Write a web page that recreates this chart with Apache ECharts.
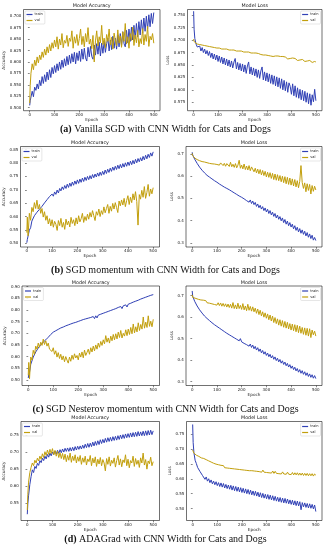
<!DOCTYPE html>
<html><head><meta charset="utf-8">
<script src="https://cdn.jsdelivr.net/npm/echarts@6/dist/echarts.min.js"></script>
<style>html,body{margin:0;padding:0;background:#fff}#c{width:331px;height:550px}</style>
</head><body><div id="c"></div>
<script>
// ---------- DATA ----------
const epochs = [0,2,5,10,15,20,25,30,35,40,
45,50,55,60,65,70,75,80,85,90,
95,100,105,110,115,120,125,130,135,140,
145,150,155,160,165,170,175,180,185,190,
195,200,205,210,215,220,225,230,235,240,
245,250,255,260,265,270,275,280,285,290,
295,300,305,310,315,320,325,330,335,340,
345,350,355,360,365,370,375,380,385,390,
395,400,405,410,415,420,425,430,435,440,
445,450,455,460,465,470,475,480,485,490,
495,500];
const seriesNames = ['train','val'];
const xTicks = [0,100,200,300,400,500];

// (a) Vanilla SGD
const accTrainA = [0.505,0.515,0.518,0.536,0.524,0.545,0.538,0.552,0.541,0.560,
0.548,0.568,0.553,0.572,0.557,0.578,0.561,0.583,0.566,0.588,
0.574,0.592,0.577,0.596,0.581,0.600,0.584,0.604,0.588,0.607,
0.591,0.612,0.594,0.615,0.597,0.618,0.600,0.621,0.596,0.620,
0.603,0.624,0.601,0.628,0.606,0.630,0.609,0.602,0.632,0.611,
0.634,0.612,0.606,0.637,0.615,0.640,0.617,0.643,0.613,0.641,
0.619,0.645,0.621,0.640,0.652,0.624,0.648,0.627,0.656,0.630,
0.652,0.628,0.659,0.633,0.662,0.636,0.666,0.640,0.633,0.669,
0.642,0.672,0.645,0.676,0.648,0.680,0.651,0.684,0.655,0.688,
0.659,0.692,0.663,0.696,0.667,0.700,0.672,0.703,0.677,0.706,
0.684,0.708];
const accValA = [0.510,0.548,0.575,0.596,0.583,0.604,0.592,0.611,0.598,0.615,
0.605,0.622,0.610,0.628,0.615,0.633,0.620,0.638,0.624,0.642,
0.630,0.648,0.633,0.655,0.628,0.650,0.637,0.662,0.631,0.647,
0.641,0.658,0.634,0.652,0.645,0.668,0.630,0.655,0.641,0.660,
0.636,0.651,0.672,0.638,0.656,0.633,0.662,0.644,0.675,0.639,
0.650,0.629,0.658,0.600,0.646,0.668,0.635,0.655,0.642,0.680,
0.638,0.652,0.631,0.660,0.645,0.672,0.637,0.654,0.628,0.663,
0.648,0.635,0.670,0.641,0.657,0.632,0.666,0.645,0.684,0.639,
0.655,0.630,0.662,0.647,0.676,0.636,0.659,0.642,0.669,0.633,
0.651,0.640,0.673,0.637,0.660,0.645,0.678,0.634,0.656,0.648,
0.662,0.641];
const lossTrainA = [0.758,0.722,0.703,0.692,0.686,0.684,0.688,0.678,0.685,0.675,
0.682,0.672,0.679,0.669,0.677,0.665,0.674,0.662,0.672,0.660,
0.670,0.657,0.668,0.655,0.666,0.652,0.664,0.650,0.662,0.648,
0.660,0.646,0.658,0.644,0.656,0.663,0.642,0.655,0.640,0.653,
0.638,0.652,0.636,0.650,0.633,0.648,0.656,0.632,0.646,0.630,
0.644,0.628,0.642,0.625,0.640,0.623,0.638,0.646,0.620,0.636,
0.618,0.634,0.616,0.632,0.613,0.630,0.611,0.628,0.608,0.626,
0.606,0.624,0.603,0.622,0.600,0.619,0.598,0.616,0.595,0.614,
0.607,0.591,0.612,0.588,0.608,0.585,0.604,0.583,0.601,0.580,
0.599,0.578,0.597,0.575,0.594,0.572,0.592,0.569,0.590,0.576,
0.601,0.578];
const lossValA = [0.702,0.697,0.695,0.693,0.692,0.691,0.691,0.690,0.690,0.689,
0.689,0.688,0.688,0.687,0.687,0.686,0.686,0.685,0.685,0.684,
0.684,0.683,0.684,0.683,0.682,0.683,0.682,0.681,0.682,0.681,
0.680,0.681,0.680,0.679,0.680,0.679,0.678,0.679,0.678,0.677,
0.678,0.677,0.676,0.677,0.676,0.675,0.676,0.675,0.674,0.675,
0.674,0.673,0.674,0.672,0.673,0.672,0.671,0.673,0.670,0.672,
0.670,0.671,0.669,0.672,0.668,0.670,0.667,0.669,0.668,0.666,
0.668,0.665,0.667,0.664,0.667,0.663,0.666,0.664,0.662,0.665,
0.663,0.661,0.664,0.660,0.663,0.661,0.659,0.662,0.660,0.658,
0.661,0.659,0.657,0.660,0.658,0.656,0.659,0.657,0.655,0.658,
0.657,0.656];

// (b) SGD momentum
const accTrainB = [0.502,0.514,0.521,0.549,0.558,0.583,0.586,0.603,0.598,0.616,
0.609,0.627,0.620,0.638,0.633,0.651,0.644,0.663,0.656,0.675,
0.668,0.684,0.676,0.692,0.683,0.699,0.688,0.705,0.696,0.711,
0.701,0.716,0.705,0.721,0.709,0.725,0.713,0.729,0.717,0.733,
0.721,0.737,0.724,0.740,0.728,0.744,0.731,0.747,0.735,0.750,
0.738,0.753,0.741,0.757,0.745,0.759,0.748,0.763,0.751,0.766,
0.754,0.769,0.757,0.774,0.761,0.777,0.765,0.781,0.769,0.785,
0.773,0.788,0.776,0.792,0.779,0.795,0.782,0.798,0.785,0.801,
0.788,0.804,0.791,0.807,0.794,0.810,0.797,0.814,0.801,0.817,
0.805,0.820,0.808,0.825,0.812,0.829,0.816,0.833,0.821,0.838,
0.826,0.842];
const accValB = [0.540,0.598,0.528,0.612,0.586,0.634,0.618,0.652,0.630,0.661,
0.628,0.645,0.612,0.630,0.598,0.618,0.586,0.603,0.572,0.592,
0.565,0.588,0.560,0.582,0.571,0.548,0.585,0.566,0.593,0.560,
0.578,0.552,0.590,0.569,0.583,0.561,0.597,0.574,0.588,0.566,
0.595,0.572,0.603,0.580,0.592,0.612,0.578,0.600,0.585,0.609,
0.590,0.615,0.598,0.622,0.603,0.585,0.618,0.605,0.628,0.600,
0.622,0.608,0.636,0.614,0.630,0.645,0.612,0.638,0.620,0.649,
0.628,0.652,0.634,0.615,0.658,0.640,0.662,0.643,0.668,0.637,
0.660,0.678,0.645,0.672,0.652,0.685,0.662,0.693,0.656,0.568,
0.682,0.665,0.698,0.672,0.712,0.668,0.690,0.720,0.676,0.703,
0.685,0.708];
const lossTrainB = [0.708,0.696,0.692,0.677,0.673,0.658,0.655,0.641,0.642,0.627,
0.630,0.615,0.619,0.604,0.611,0.596,0.602,0.588,0.594,0.580,
0.586,0.573,0.579,0.565,0.572,0.558,0.566,0.551,0.559,0.545,
0.553,0.539,0.547,0.532,0.541,0.525,0.534,0.518,0.527,0.511,
0.520,0.505,0.513,0.498,0.506,0.490,0.499,0.483,0.493,0.477,
0.488,0.472,0.482,0.464,0.475,0.458,0.469,0.452,0.463,0.445,
0.457,0.439,0.451,0.432,0.445,0.426,0.438,0.419,0.432,0.412,
0.425,0.406,0.418,0.399,0.412,0.391,0.405,0.384,0.398,0.377,
0.391,0.371,0.384,0.363,0.377,0.356,0.370,0.349,0.364,0.343,
0.358,0.338,0.352,0.331,0.346,0.325,0.340,0.319,0.334,0.312,
0.324,0.310];
const lossValB = [0.703,0.693,0.691,0.682,0.681,0.675,0.676,0.670,0.672,0.666,
0.670,0.664,0.668,0.661,0.666,0.658,0.665,0.656,0.663,0.655,
0.662,0.653,0.661,0.650,0.660,0.668,0.648,0.658,0.645,0.657,
0.655,0.644,0.663,0.643,0.654,0.640,0.657,0.638,0.650,0.672,
0.636,0.650,0.633,0.655,0.630,0.646,0.628,0.648,0.625,0.642,
0.640,0.620,0.636,0.615,0.632,0.611,0.630,0.606,0.626,0.603,
0.622,0.597,0.618,0.595,0.616,0.590,0.613,0.585,0.610,0.582,
0.607,0.580,0.603,0.575,0.600,0.571,0.598,0.566,0.595,0.563,
0.592,0.560,0.588,0.556,0.585,0.552,0.580,0.548,0.577,0.648,
0.572,0.545,0.570,0.530,0.566,0.536,0.563,0.520,0.558,0.532,
0.555,0.538];

// (c) SGD Nesterov momentum
const accTrainC = [0.508,0.524,0.533,0.567,0.575,0.598,0.601,0.620,0.621,0.637,
0.635,0.651,0.647,0.662,0.657,0.672,0.667,0.683,0.679,0.695,
0.690,0.705,0.698,0.711,0.704,0.717,0.710,0.723,0.715,0.727,
0.720,0.732,0.724,0.736,0.728,0.740,0.732,0.744,0.736,0.747,
0.739,0.751,0.743,0.755,0.747,0.759,0.751,0.762,0.754,0.765,
0.757,0.768,0.760,0.772,0.763,0.775,0.766,0.778,0.770,0.782,
0.774,0.786,0.778,0.790,0.782,0.794,0.786,0.798,0.790,0.802,
0.794,0.806,0.798,0.811,0.803,0.815,0.806,0.818,0.810,0.822,
0.813,0.825,0.817,0.829,0.821,0.834,0.826,0.838,0.830,0.842,
0.834,0.847,0.839,0.851,0.843,0.855,0.847,0.859,0.851,0.863,
0.855,0.866];
const accValC = [0.520,0.575,0.505,0.598,0.585,0.627,0.610,0.645,0.632,0.658,
0.640,0.662,0.648,0.675,0.652,0.668,0.645,0.658,0.632,0.640,
0.622,0.638,0.610,0.625,0.598,0.617,0.592,0.610,0.586,0.603,
0.578,0.600,0.585,0.572,0.598,0.580,0.606,0.588,0.612,0.594,
0.605,0.586,0.615,0.598,0.620,0.595,0.628,0.605,0.618,0.632,
0.610,0.638,0.620,0.645,0.625,0.650,0.632,0.658,0.640,0.665,
0.648,0.672,0.655,0.690,0.662,0.680,0.658,0.688,0.668,0.695,
0.672,0.698,0.676,0.705,0.682,0.712,0.680,0.700,0.688,0.715,
0.690,0.718,0.695,0.725,0.698,0.740,0.702,0.728,0.706,0.745,
0.712,0.738,0.718,0.770,0.722,0.748,0.725,0.775,0.730,0.752,
0.728,0.760];
const lossTrainC = [0.722,0.698,0.693,0.674,0.670,0.652,0.650,0.634,0.635,0.619,
0.622,0.605,0.610,0.594,0.601,0.584,0.591,0.574,0.582,0.565,
0.573,0.557,0.565,0.549,0.557,0.541,0.549,0.533,0.541,0.525,
0.534,0.518,0.527,0.511,0.520,0.504,0.513,0.497,0.506,0.490,
0.500,0.485,0.494,0.478,0.487,0.472,0.481,0.465,0.475,0.459,
0.470,0.453,0.464,0.447,0.458,0.441,0.452,0.434,0.445,0.428,
0.439,0.422,0.433,0.416,0.427,0.410,0.421,0.404,0.415,0.398,
0.409,0.392,0.403,0.386,0.397,0.380,0.391,0.374,0.385,0.368,
0.379,0.362,0.373,0.356,0.367,0.350,0.361,0.344,0.356,0.339,
0.351,0.334,0.346,0.329,0.341,0.324,0.336,0.320,0.332,0.316,
0.328,0.314];
const lossValC = [0.704,0.692,0.692,0.683,0.687,0.678,0.683,0.674,0.680,0.672,
0.679,0.670,0.677,0.667,0.675,0.665,0.673,0.662,0.670,0.659,
0.668,0.656,0.667,0.654,0.666,0.651,0.664,0.650,0.662,0.647,
0.661,0.645,0.660,0.642,0.668,0.640,0.657,0.638,0.665,0.640,
0.655,0.636,0.663,0.634,0.652,0.630,0.660,0.632,0.650,0.628,
0.648,0.625,0.642,0.618,0.638,0.612,0.632,0.606,0.625,0.600,
0.620,0.595,0.615,0.588,0.610,0.582,0.605,0.575,0.598,0.570,
0.592,0.563,0.588,0.558,0.584,0.553,0.580,0.549,0.576,0.545,
0.570,0.540,0.568,0.537,0.565,0.532,0.562,0.528,0.558,0.525,
0.552,0.520,0.550,0.516,0.548,0.512,0.546,0.505,0.540,0.518,
0.535,0.512];

// (d) ADAGrad
const accTrainD = [0.518,0.548,0.572,0.605,0.628,0.648,0.640,0.658,0.652,0.667,
0.661,0.675,0.669,0.682,0.675,0.688,0.680,0.693,0.685,0.697,
0.689,0.700,0.693,0.703,0.694,0.705,0.696,0.707,0.698,0.709,
0.700,0.711,0.702,0.712,0.702,0.713,0.703,0.714,0.704,0.716,
0.706,0.717,0.708,0.718,0.709,0.720,0.711,0.723,0.713,0.725,
0.714,0.726,0.716,0.729,0.718,0.731,0.720,0.733,0.722,0.736,
0.725,0.737,0.727,0.740,0.729,0.742,0.731,0.743,0.732,0.745,
0.734,0.746,0.735,0.748,0.737,0.750,0.739,0.751,0.740,0.753,
0.742,0.754,0.743,0.756,0.744,0.757,0.745,0.758,0.746,0.760,
0.747,0.759,0.748,0.761,0.748,0.762,0.749,0.763,0.750,0.764,
0.751,0.762];
const accValD = [0.530,0.575,0.612,0.640,0.655,0.668,0.660,0.676,0.668,0.682,
0.674,0.688,0.679,0.695,0.684,0.701,0.690,0.706,0.693,0.708,
0.696,0.710,0.692,0.705,0.688,0.702,0.684,0.698,0.681,0.696,
0.678,0.694,0.672,0.690,0.676,0.697,0.670,0.688,0.675,0.692,
0.668,0.686,0.673,0.690,0.664,0.683,0.670,0.688,0.662,0.680,
0.672,0.690,0.660,0.682,0.668,0.686,0.658,0.679,0.665,0.684,
0.660,0.678,0.668,0.645,0.681,0.664,0.686,0.659,0.676,0.667,
0.683,0.656,0.675,0.690,0.662,0.680,0.657,0.677,0.669,0.692,
0.660,0.679,0.654,0.675,0.668,0.688,0.658,0.681,0.664,0.676,
0.655,0.683,0.668,0.697,0.662,0.678,0.650,0.674,0.666,0.685,
0.660,0.672];
const lossTrainD = [0.782,0.722,0.688,0.662,0.651,0.638,0.632,0.624,0.620,0.611,
0.612,0.598,0.606,0.592,0.600,0.587,0.596,0.583,0.592,0.580,
0.590,0.577,0.587,0.574,0.586,0.572,0.584,0.569,0.581,0.567,
0.579,0.565,0.578,0.562,0.576,0.560,0.574,0.558,0.572,0.556,
0.570,0.554,0.568,0.552,0.566,0.550,0.564,0.548,0.562,0.546,
0.559,0.544,0.558,0.542,0.555,0.539,0.553,0.537,0.551,0.535,
0.548,0.533,0.547,0.531,0.545,0.529,0.543,0.527,0.541,0.525,
0.538,0.523,0.537,0.521,0.535,0.519,0.534,0.518,0.532,0.516,
0.529,0.514,0.528,0.512,0.526,0.510,0.525,0.509,0.523,0.496,
0.520,0.506,0.519,0.504,0.517,0.502,0.516,0.501,0.514,0.499,
0.512,0.490];
const lossValD = [0.696,0.690,0.686,0.683,0.679,0.677,0.675,0.672,0.670,0.668,
0.668,0.663,0.664,0.658,0.660,0.654,0.656,0.650,0.652,0.646,
0.649,0.643,0.647,0.641,0.645,0.639,0.644,0.637,0.643,0.636,
0.641,0.635,0.640,0.634,0.639,0.633,0.638,0.632,0.637,0.631,
0.636,0.630,0.636,0.629,0.635,0.628,0.634,0.627,0.633,0.627,
0.632,0.626,0.631,0.625,0.631,0.624,0.630,0.622,0.629,0.622,
0.627,0.621,0.627,0.620,0.626,0.619,0.626,0.618,0.625,0.618,
0.624,0.617,0.623,0.616,0.623,0.616,0.622,0.615,0.622,0.615,
0.621,0.614,0.621,0.613,0.620,0.613,0.620,0.612,0.619,0.612,
0.619,0.611,0.618,0.611,0.618,0.610,0.617,0.610,0.617,0.609,
0.616,0.612];

// tick labels
const accTicksA = [0.500,0.525,0.550,0.575,0.600,0.625,0.650,0.675,0.700];
const lossTicksA = [0.575,0.600,0.625,0.650,0.675,0.700,0.725,0.750];
const accTicksB = [0.50,0.55,0.60,0.65,0.70,0.75,0.80,0.85];
const lossTicksB = [0.3,0.4,0.5,0.6,0.7];
const accTicksC = [0.50,0.55,0.60,0.65,0.70,0.75,0.80,0.85,0.90];
const lossTicksC = [0.3,0.4,0.5,0.6,0.7];
const accTicksD = [0.55,0.60,0.65,0.70,0.75];
const lossTicksD = [0.50,0.55,0.60,0.65,0.70,0.75];

const captions = [
  ['(a)', 'Vanilla SGD with CNN Width for Cats and Dogs'],
  ['(b)', 'SGD momentum with CNN Width for Cats and Dogs'],
  ['(c)', 'SGD Nesterov momentum with CNN Width for Cats and Dogs'],
  ['(d)', 'ADAGrad with CNN Width for Cats and Dogs']
];

// ---------- LAYOUT ----------
const TRAIN = '#3040b5', VAL = '#c29f0c';
const W = 331, H = 550;
const rows = [
  {top: 9.5, bot: 110.7, titleY: 6, capY: 129},
  {top: 146.5, bot: 247, titleY: 143, capY: 270},
  {top: 286, bot: 385.5, titleY: 282.5, capY: 409.5},
  {top: 421.5, bot: 520.5, titleY: 418, capY: 539}
];
const panels = [
  {r:0, kind:'acc', x0:23.5, x1:160, ymin:0.4935, ymax:0.7146, ticks:accTicksA, dec:3, tr:accTrainA, va:accValA, ng:14.5},
  {r:0, kind:'loss', x0:187.5, x1:322, ymin:0.558, ymax:0.7615, ticks:lossTicksA, dec:3, tr:lossTrainA, va:lossValA, ng:13},
  {r:1, kind:'acc', x0:20.5, x1:159.5, ymin:0.486, ymax:0.862, ticks:accTicksB, dec:2, tr:accTrainB, va:accValB, ng:11.5},
  {r:1, kind:'loss', x0:186, x1:322, ymin:0.281, ymax:0.734, ticks:lossTicksB, dec:1, tr:lossTrainB, va:lossValB, ng:9},
  {r:2, kind:'acc', x0:22, x1:159.5, ymin:0.476, ymax:0.903, ticks:accTicksC, dec:2, tr:accTrainC, va:accValC, ng:11.5},
  {r:2, kind:'loss', x0:186, x1:322, ymin:0.282, ymax:0.745, ticks:lossTicksC, dec:1, tr:lossTrainC, va:lossValC, ng:9},
  {r:3, kind:'acc', x0:21, x1:159.5, ymin:0.4996, ymax:0.7895, ticks:accTicksD, dec:2, tr:accTrainD, va:accValD, ng:11.5},
  {r:3, kind:'loss', x0:186.5, x1:322, ymin:0.46, ymax:0.792, ticks:lossTicksD, dec:2, tr:lossTrainD, va:lossValD, ng:11.5}
];

const FONT = 'DejaVu Sans';
const grid = [], xAxis = [], yAxis = [], series = [], legend = [], graphic = [];
const pair = vals => vals.map((v, i) => [epochs[i], v]);

panels.forEach((p, i) => {
  const row = rows[p.r];
  grid.push({left: p.x0, top: row.top, width: p.x1 - p.x0, height: row.bot - row.top,
    show: true, borderColor: '#111', borderWidth: 0.6, backgroundColor: 'transparent'});
  xAxis.push({type: 'value', gridIndex: i, min: -25, max: 525,
    name: 'Epoch', nameLocation: 'middle', nameGap: 6.5,
    nameTextStyle: {fontSize: 4.2, fontFamily: FONT, color: '#222'},
    axisLine: {show: false}, splitLine: {show: false},
    axisTick: {show: true, length: 1.8, lineStyle: {color: '#111', width: 0.5}, customValues: xTicks},
    axisLabel: {fontSize: 4, fontFamily: FONT, color: '#222', margin: 2.2, customValues: xTicks}
  });
  yAxis.push({type: 'value', gridIndex: i, min: p.ymin, max: p.ymax,
    name: p.kind === 'acc' ? 'Accuracy' : 'Loss', nameLocation: 'middle', nameGap: p.ng,
    nameTextStyle: {fontSize: 4.2, fontFamily: FONT, color: '#222'},
    axisLine: {show: false}, splitLine: {show: false},
    axisTick: {show: true, length: 1.8, lineStyle: {color: '#111', width: 0.5}, customValues: p.ticks},
    axisLabel: {fontSize: 4, fontFamily: FONT, color: '#222', margin: 2.2, customValues: p.ticks,
      formatter: v => Number(v).toFixed(p.dec)}
  });
  series.push({name: seriesNames[0], type: 'line', xAxisIndex: i, yAxisIndex: i, data: pair(p.tr),
    showSymbol: false, symbol: 'none', lineStyle: {width: 1, color: TRAIN}, itemStyle: {color: TRAIN}, z: 2});
  series.push({name: seriesNames[1], type: 'line', xAxisIndex: i, yAxisIndex: i, data: pair(p.va),
    showSymbol: false, symbol: 'none', lineStyle: {width: 1, color: VAL}, itemStyle: {color: VAL}, z: 3});
  const lg = {data: seriesNames, orient: 'vertical', top: row.top + 1.5,
    itemWidth: 6, itemHeight: 1.2, itemGap: 2, icon: 'rect',
    padding: [1.5, 2, 1.5, 1.5], borderColor: '#ccc', borderWidth: 0.5, borderRadius: 1,
    backgroundColor: 'rgba(255,255,255,0.85)',
    textStyle: {fontSize: 3.6, fontFamily: FONT, color: '#222', padding: [0, 0, 0, -3]},
    selectedMode: false};
  if (p.kind === 'acc') lg.left = p.x0 + 1.5; else lg.right = W - p.x1 + 1.5;
  legend.push(lg);
  graphic.push({type: 'text', x: (p.x0 + p.x1) / 2, y: row.titleY,
    style: {text: p.kind === 'acc' ? 'Model Accuracy' : 'Model Loss', fontSize: 4.8, fontFamily: FONT,
      fill: '#111', align: 'center', verticalAlign: 'middle'}});
});

captions.forEach((c, k) => {
  graphic.push({type: 'text', x: W / 2, y: rows[k].capY,
    style: {text: '{b|' + c[0] + '} ' + c[1], fontSize: 10, fontFamily: 'Liberation Serif', fill: '#111',
      align: 'center', verticalAlign: 'middle',
      rich: {b: {fontWeight: 'bold', fontSize: 10, fontFamily: 'Liberation Serif', fill: '#111'}}}});
});

const chart = echarts.init(document.getElementById('c'), null, {renderer: 'canvas'});
chart.setOption({animation: false, backgroundColor: '#fff', grid, xAxis, yAxis, series, legend, graphic});
</script></body></html>
